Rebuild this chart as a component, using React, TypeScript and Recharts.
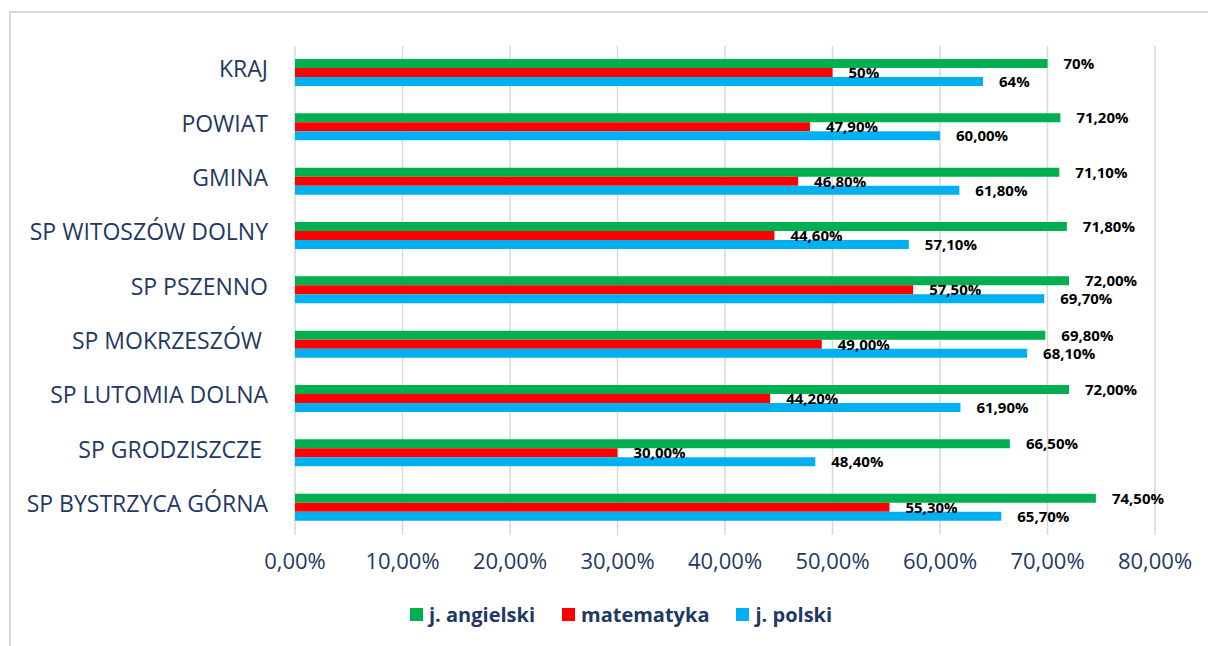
import React from "react"
import { BarChart, Bar, XAxis, YAxis, CartesianGrid, LabelList } from "recharts"

// categories, top to bottom
const categories = [
  "KRAJ",
  "POWIAT",
  "GMINA",
  "SP WITOSZÓW DOLNY",
  "SP PSZENNO",
  "SP MOKRZESZÓW\u00a0",
  "SP LUTOMIA DOLNA",
  "SP GRODZISZCZE\u00a0",
  "SP BYSTRZYCA GÓRNA",
]

const angielski = [70, 71.2, 71.1, 71.8, 72.0, 69.8, 72.0, 66.5, 74.5]
const matematyka = [50, 47.9, 46.8, 44.6, 57.5, 49.0, 44.2, 30.0, 55.3]
const polski = [64, 60.0, 61.8, 57.1, 69.7, 68.1, 61.9, 48.4, 65.7]

// KRAJ labels are shown without decimals
const labelDecimals = [0, 2, 2, 2, 2, 2, 2, 2, 2]

const xTicks = [0, 10, 20, 30, 40, 50, 60, 70, 80]

const NAVY = "#1F3864"
const GREEN = "#00B050"
const RED = "#FF0000"
const BLUE = "#00B0F0"
const FONT = "'Open Sans', sans-serif"

const fmt = (v: number, d: number) => v.toFixed(d).replace(".", ",") + "%"

const data = categories.map((name, i) => ({
  name,
  ang: angielski[i],
  mat: matematyka[i],
  pol: polski[i],
  angLabel: fmt(angielski[i], labelDecimals[i]),
  matLabel: fmt(matematyka[i], labelDecimals[i]),
  polLabel: fmt(polski[i], labelDecimals[i]),
}))

const legendItems = [
  { name: "j. angielski", color: GREEN },
  { name: "matematyka", color: RED },
  { name: "j. polski", color: BLUE },
]

const labelStyle = { fill: "#000", fontSize: 15, fontWeight: 700, fontFamily: FONT }

// category names sit a little above the middle of their bar group, like in Excel
const CategoryTick = (props: any) => {
  const { x, y, payload } = props
  return (
    <text x={x} y={y - 4} dy="0.355em" textAnchor="end" fill={NAVY} fontSize={23} fontFamily={FONT}>
      {payload.value}
    </text>
  )
}

export default function App() {
  return (
    <div style={{ position: "absolute", left: 0, top: 0, width: 1208, height: 646, background: "#fff" }}>
      <div
        style={{
          position: "absolute",
          left: 9,
          top: 11,
          width: 1220,
          height: 660,
          border: "2px solid #d9d9d9",
          boxSizing: "border-box",
        }}
      />
      <BarChart
        layout="vertical"
        width={1208}
        height={646}
        data={data}
        margin={{ top: 46, right: 53, bottom: 61, left: 0 }}
        barCategoryGap="24%"
        barGap={0}
      >
        <CartesianGrid horizontal={false} stroke="#d9d9d9" strokeWidth={1.5} />
        <XAxis
          type="number"
          domain={[0, 80]}
          ticks={xTicks}
          tickFormatter={(v: number) => v.toFixed(2).replace(".", ",") + "%"}
          axisLine={false}
          tickLine={false}
          tickMargin={12}
          height={50}
          tick={{ fill: NAVY, fontSize: 22, fontFamily: FONT }}
          interval={0}
        />
        <YAxis
          type="category"
          dataKey="name"
          width={295}
          axisLine={false}
          tickLine={false}
          tickMargin={21}
          interval={0}
          tick={<CategoryTick />}
        />
        <Bar dataKey="ang" fill={GREEN} isAnimationActive={false}>
          <LabelList dataKey="angLabel" position="right" offset={16} style={labelStyle} />
        </Bar>
        <Bar dataKey="mat" fill={RED} isAnimationActive={false}>
          <LabelList dataKey="matLabel" position="right" offset={16} style={labelStyle} />
        </Bar>
        <Bar dataKey="pol" fill={BLUE} isAnimationActive={false}>
          <LabelList dataKey="polLabel" position="right" offset={16} style={labelStyle} />
        </Bar>
      </BarChart>
      <div
        style={{
          position: "absolute",
          top: 601,
          left: 410,
          display: "flex",
          alignItems: "center",
          fontFamily: FONT,
          fontWeight: 700,
          fontSize: 20,
          color: NAVY,
          whiteSpace: "nowrap",
        }}
      >
        {legendItems.map((it) => (
          <div key={it.name} style={{ display: "flex", alignItems: "center", marginRight: 27 }}>
            <span style={{ width: 13, height: 13, background: it.color, display: "inline-block", marginRight: 6 }} />
            <span>{it.name}</span>
          </div>
        ))}
      </div>
    </div>
  )
}
